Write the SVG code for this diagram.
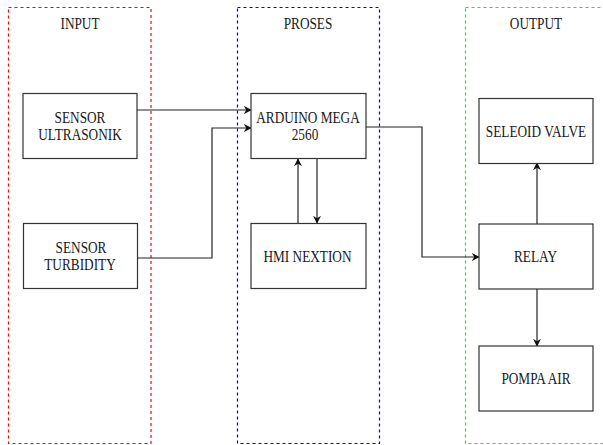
<svg xmlns="http://www.w3.org/2000/svg" width="603" height="445" viewBox="0 0 603 445">
<defs>
<style>
.c{fill:none;stroke-width:1.2;stroke-dasharray:3 3}
.n rect{fill:#ffffff;stroke:#333333;stroke-width:1.2}
.e{fill:none;stroke:#222222;stroke-width:1.2}
</style>
<marker id="a" viewBox="0 0 10 10" refX="9" refY="5" markerWidth="8" markerHeight="8" markerUnits="userSpaceOnUse" orient="auto">
<path d="M0,0 L10,5 L0,10 L3,5 Z" fill="#111111"/>
</marker>
</defs>
<rect width="603" height="445" fill="#ffffff"/>
<g id="input">
<rect class="c" stroke="#ff0000" x="8.5" y="7.5" width="142.5" height="436"/>
</g>
<g id="proses">
<rect class="c" stroke="#0000ff" x="237.5" y="7.5" width="142" height="436"/>
</g>
<g id="output">
<rect class="c" stroke="#00ff00" x="465.5" y="7.5" width="142" height="436"/>
</g>
<g id="connectors">
<path class="e" d="M137,110 H251" marker-end="url(#a)"/>
<path class="e" d="M138,258 H212 V128 H251" marker-end="url(#a)"/>
<path class="e" d="M366,127 H422 V257 H479" marker-end="url(#a)"/>
<path class="e" d="M298,223 V159" marker-end="url(#a)"/>
<path class="e" d="M317,159 V223" marker-end="url(#a)"/>
<path class="e" d="M537,224 V163" marker-end="url(#a)"/>
<path class="e" d="M537,289 V346" marker-end="url(#a)"/>
</g>
<g id="ultrasonik" class="n">
<rect x="23" y="93.5" width="114" height="65"/>
</g>
<g id="turbidity" class="n">
<rect x="23.5" y="223.5" width="114" height="65"/>
</g>
<g id="arduino" class="n">
<rect x="251" y="93.5" width="115" height="65"/>
</g>
<g id="hmi" class="n">
<rect x="251" y="223.5" width="115" height="65"/>
</g>
<g id="seleoid" class="n">
<rect x="479" y="98.5" width="114" height="65"/>
</g>
<g id="relay" class="n">
<rect x="479" y="224" width="114" height="65"/>
</g>
<g id="pompa" class="n">
<rect x="479" y="346" width="114" height="65"/>
</g>
<g id="labels" font-family="'Liberation Serif', 'DejaVu Serif', serif" font-size="16" fill="#1a1a1a" text-anchor="middle">
<text transform="translate(80,29) scale(0.83,1)">INPUT</text>
<text transform="translate(308,29) scale(0.83,1)">PROSES</text>
<text transform="translate(536,28.5) scale(0.83,1)">OUTPUT</text>
<text transform="translate(80,123) scale(0.83,1)">SENSOR</text>
<text transform="translate(80,140) scale(0.83,1)">ULTRASONIK</text>
<text transform="translate(81,253) scale(0.83,1)">SENSOR</text>
<text transform="translate(80,270) scale(0.83,1)">TURBIDITY</text>
<text transform="translate(308,123) scale(0.83,1)">ARDUINO MEGA</text>
<text transform="translate(305,140) scale(0.83,1)">2560</text>
<text transform="translate(307.5,262) scale(0.83,1)">HMI NEXTION</text>
<text transform="translate(536,137) scale(0.83,1)">SELEOID VALVE</text>
<text transform="translate(535.5,262) scale(0.83,1)">RELAY</text>
<text transform="translate(536,384) scale(0.83,1)">POMPA AIR</text>
</g>
</svg>
